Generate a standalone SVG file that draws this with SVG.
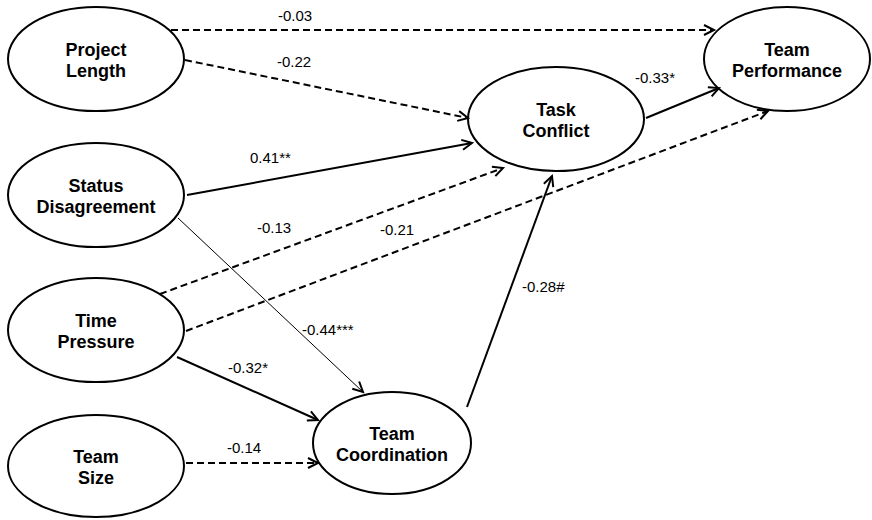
<svg xmlns="http://www.w3.org/2000/svg" width="872" height="520" viewBox="0 0 872 520">
<style>
.n ellipse{fill:#fff;stroke:#000;stroke-width:2}
.n text{font-family:"Liberation Sans",Arial,sans-serif;font-weight:bold;font-size:18px;text-anchor:middle;fill:#000}
.e{fill:none;stroke:#000;stroke-width:2}
.d{stroke-dasharray:7,4}
.t{stroke-width:1}
.lbl{font-family:"Liberation Sans",Arial,sans-serif;font-size:15px;fill:#000}
</style>
<defs>
<marker id="a" markerUnits="userSpaceOnUse" viewBox="0 0 12 12" refX="11" refY="6" markerWidth="12" markerHeight="12" orient="auto" overflow="visible">
<path d="M1,1 L11,6 L1,11" fill="none" stroke="#000" stroke-width="2" stroke-linejoin="miter"/>
</marker>
</defs>
<rect width="872" height="520" fill="#fff"/>
<g id="project-length" class="n">
<ellipse cx="96" cy="59" rx="88" ry="52"/>
<text x="96" y="56">Project</text><text x="96" y="77">Length</text>
</g>
<g id="status-disagreement" class="n">
<ellipse cx="96" cy="195" rx="88" ry="52"/>
<text x="96" y="192">Status</text><text x="96" y="213">Disagreement</text>
</g>
<g id="time-pressure" class="n">
<ellipse cx="96" cy="330" rx="88" ry="52"/>
<text x="96" y="327">Time</text><text x="96" y="348">Pressure</text>
</g>
<g id="team-size" class="n">
<ellipse cx="96" cy="466" rx="88" ry="51"/>
<text x="96" y="463">Team</text><text x="96" y="484">Size</text>
</g>
<g id="team-coordination" class="n">
<ellipse cx="392" cy="443" rx="79" ry="51"/>
<text x="392" y="440">Team</text><text x="392" y="461">Coordination</text>
</g>
<g id="task-conflict" class="n">
<ellipse cx="556" cy="119" rx="88" ry="52"/>
<text x="556" y="116">Task</text><text x="556" y="137">Conflict</text>
</g>
<g id="team-performance" class="n">
<ellipse cx="787" cy="59" rx="83" ry="52"/>
<text x="787" y="56">Team</text><text x="787" y="77">Performance</text>
</g>
<g id="connectors">
<line class="e d" x1="171" y1="30" x2="714" y2="30" marker-end="url(#a)"/>
<line class="e d" x1="185" y1="60" x2="468" y2="118" marker-end="url(#a)"/>
<line class="e" x1="187" y1="195" x2="472" y2="143" marker-end="url(#a)"/>
<line class="e t" x1="178" y1="218" x2="363" y2="392" marker-end="url(#a)"/>
<line class="e d" x1="160" y1="294" x2="503" y2="168" marker-end="url(#a)"/>
<line class="e d" x1="186" y1="331" x2="768" y2="111" marker-end="url(#a)"/>
<line class="e" x1="177" y1="357" x2="318" y2="420" marker-end="url(#a)"/>
<line class="e d" x1="186" y1="463" x2="318" y2="463" marker-end="url(#a)"/>
<line class="e" x1="467" y1="407" x2="552" y2="176" marker-end="url(#a)"/>
<line class="e" x1="646" y1="118" x2="719" y2="88" marker-end="url(#a)"/>
</g>
<g id="labels">
<text class="lbl" x="278" y="21">-0.03</text>
<text class="lbl" x="277" y="67">-0.22</text>
<text class="lbl" x="635" y="83">-0.33*</text>
<text class="lbl" x="250" y="163">0.41**</text>
<text class="lbl" x="257" y="233">-0.13</text>
<text class="lbl" x="380" y="235">-0.21</text>
<text class="lbl" x="302" y="335">-0.44***</text>
<text class="lbl" x="228" y="373">-0.32*</text>
<text class="lbl" x="227" y="453">-0.14</text>
<text class="lbl" x="522" y="292">-0.28#</text>
</g>
</svg>
